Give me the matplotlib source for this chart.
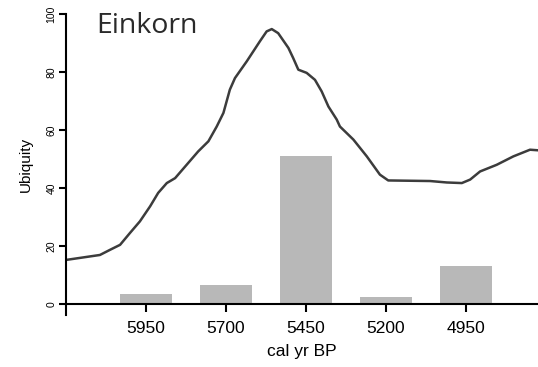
import matplotlib.pyplot as plt

# bar data: ubiquity per 250-yr bin
bins = [5950, 5700, 5450, 5200, 4950]
ubiquity = [3.4, 6.5, 51.0, 2.5, 13.0]

# smoothed ubiquity curve
curve_yr = [6200, 6193, 6094, 6062, 6031, 6000, 5969, 5937, 5912, 5885, 5859,
            5823, 5787, 5755, 5729, 5708, 5688, 5672, 5635, 5594, 5573, 5557,
            5537, 5505, 5490, 5474, 5448, 5422, 5401, 5380, 5354, 5344, 5302,
            5260, 5219, 5193, 5062, 5010, 4963, 4937, 4906, 4854, 4802, 4750,
            4725]
curve_val = [15.2, 15.3, 16.9, 18.7, 20.4, 24.5, 28.5, 33.7, 38.3, 41.7, 43.4,
             48.0, 52.6, 56.1, 61.2, 65.9, 73.9, 77.9, 83.7, 90.6, 94.0, 94.8,
             93.4, 88.3, 84.8, 80.8, 79.7, 77.3, 73.3, 68.1, 63.6, 61.2, 56.7,
             50.9, 44.6, 42.6, 42.4, 41.9, 41.7, 42.9, 45.7, 48.0, 50.9, 53.2,
             53.0]

fig = plt.figure(figsize=(5.38, 3.67), dpi=100)
ax = fig.add_axes([66 / 538, 52 / 367, 472 / 538, 301 / 367])

ax.bar(bins, ubiquity, width=160, color='#b8b8b8', zorder=1)
ax.plot(curve_yr, curve_val, color='#3c3c3c', lw=1.8, zorder=2)

ax.set_xlim(6200, 4725)
ax.set_ylim(-3.8, 100)

ax.spines['top'].set_visible(False)
ax.spines['right'].set_visible(False)
ax.spines['bottom'].set_position(('data', 0))
ax.spines['left'].set_linewidth(1.5)
ax.spines['bottom'].set_linewidth(1.5)

ax.set_xticks(bins)
ax.set_xticklabels([str(b) for b in bins], family='Liberation Sans', fontsize=12.5)
ax.tick_params(axis='x', direction='out', length=6, width=1.5, pad=6)
ax.set_yticks([0, 20, 40, 60, 80, 100])
ax.set_yticklabels(['0', '20', '40', '60', '80', '100'], rotation=90,
                   va='center', family='Liberation Sans', fontsize=7.5)
ax.tick_params(axis='y', direction='out', length=5, width=1.5, pad=2)

ax.set_xlabel('cal yr BP', family='Liberation Sans', fontsize=12.5, labelpad=6)
ax.set_ylabel('Ubiquity', family='Liberation Sans', fontsize=11, labelpad=10)

fig.text(96 / 538, 1 - 12 / 367, 'Einkorn', family='Open Sans', fontsize=20.5,
         color='#2a2a2a', ha='left', va='top')

fig.savefig('out.png', dpi=100)
